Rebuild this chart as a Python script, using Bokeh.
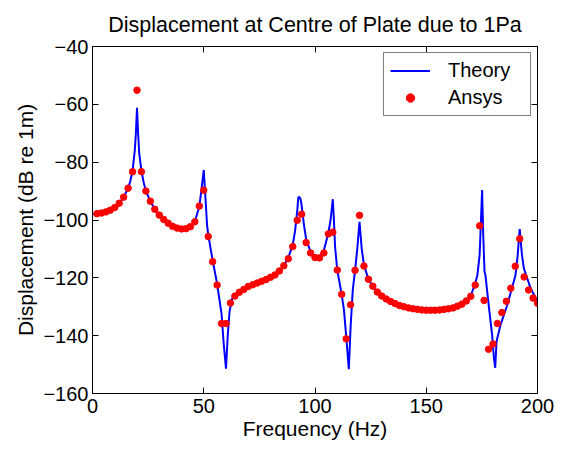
from bokeh.plotting import figure
from bokeh.models import LinearAxis, FixedTicker, Legend, LegendItem
from bokeh.embed import file_html
from bokeh.resources import INLINE

# Ansys results (2 Hz steps)
ansys_freq = list(range(2, 202, 2))
ansys_db = [
    -97.8, -97.6, -97.2, -96.6, -95.7, -94.2, -92.1, -89.0, -83.3, -55.1,
    -83.3, -90.0, -93.5, -96.3, -98.3, -99.8, -101.1, -102.2, -102.8, -103.1,
    -103.0, -102.3, -100.6, -95.2, -89.7, -105.7, -114.4, -122.5, -135.8, -135.8,
    -128.7, -126.3, -125.0, -124.0, -123.0, -122.4, -121.8, -121.2, -120.6, -119.8,
    -119.0, -117.6, -115.8, -113.4, -109.2, -100.1, -98.0, -107.8, -111.4, -113.0,
    -113.1, -111.4, -104.8, -104.2, -117.3, -125.7, -141.1, -129.3, -117.4, -98.4,
    -115.9, -120.5, -122.9, -124.9, -126.3, -127.3, -128.2, -128.9, -129.6, -130.0,
    -130.4, -130.7, -130.9, -131.1, -131.2, -131.2, -131.2, -131.1, -130.9, -130.7,
    -130.4, -129.8, -129.1, -128.0, -126.4, -122.5, -102.0, -127.8, -144.7, -142.9,
    -135.8, -132.0, -128.1, -123.6, -116.0, -106.5, -119.7, -124.2, -127.0, -128.8,
]

# Theory curve
theory_freq = [
    0, 2, 4, 6, 8, 10, 12, 14, 16, 17, 18, 19, 19.5, 20, 20.5, 21, 22, 23, 24, 26,
    28, 30, 32, 34, 36, 38, 40, 42, 44, 46, 48, 49, 50, 50.8, 51.5, 52, 54, 56, 58, 59,
    60, 60.8, 61.6, 62.8, 64, 66, 68, 70, 72, 74, 76, 78, 80, 82, 84, 86, 88, 90, 91, 92,
    92.5, 93, 93.5, 94, 95, 96, 98, 100, 102, 104, 106, 107, 108, 108.5, 109, 110, 112, 113, 114, 115.2,
    116, 117, 118, 119, 120, 121, 122, 124, 126, 128, 130, 132, 134, 136, 138, 140, 142, 144, 146, 148,
    150, 152, 154, 156, 158, 160, 162, 164, 166, 168, 170, 172, 173, 174, 174.6, 175.1, 175.6, 176.2, 176.6, 178,
    179.6, 180.4, 181.0, 181.6, 183.4, 186.4, 188, 190.1, 191, 192.0, 193.0, 193.9, 196.9, 200,
]
theory_db = [
    -98.0, -97.8, -97.6, -97.2, -96.6, -95.7, -94.2, -92.1, -89.0, -86.5, -83.0, -76.0, -70.0, -61.2, -70.0, -77.0, -83.0, -87.0, -90.0, -93.5,
    -96.3, -98.3, -99.8, -101.1, -102.2, -102.8, -103.1, -103.0, -102.3, -100.6, -95.3, -89.4, -82.7, -92.8, -101.9, -105.0, -114.0, -122.0, -132.5, -143.1,
    -151.4, -139.7, -131.6, -127.1, -125.8, -124.8, -123.8, -123.0, -122.4, -121.8, -121.2, -120.6, -119.8, -119.0, -117.6, -115.8, -113.0, -108.5, -104.0, -97.0,
    -92.2, -92.0, -92.8, -95.0, -101.5, -106.5, -111.0, -113.0, -112.8, -110.5, -104.5, -100.0, -92.8, -100.0, -109.0, -117.3, -125.8, -131.0, -140.0, -151.6,
    -137.0, -124.0, -117.5, -110.0, -100.6, -110.0, -115.5, -120.5, -123.0, -124.9, -126.3, -127.3, -128.2, -128.9, -129.6, -130.0, -130.4, -130.7, -130.9, -131.1,
    -131.2, -131.2, -131.2, -131.1, -130.9, -130.7, -130.4, -129.8, -129.1, -128.0, -126.2, -122.0, -119.0, -112.0, -100.0, -89.6, -105.0, -117.9, -119.1, -129.0,
    -139.7, -147.6, -151.1, -141.9, -136.2, -129.4, -125.0, -119.1, -113.0, -103.1, -112.0, -116.8, -123.6, -128.2,
]

x_ticks = [0, 50, 100, 150, 200]
y_ticks = [-160, -140, -120, -100, -80, -60, -40]

FONT = "Liberation Sans"

p = figure(width=557, height=442, x_range=(0, 200), y_range=(-160, -40),
           output_backend="svg", toolbar_location=None,
           min_border_left=92, min_border_right=20, min_border_top=46, min_border_bottom=46,
           x_axis_label="Frequency (Hz)", y_axis_label="Displacement (dB re 1m)")

p.title.text = "Displacement at Centre of Plate due to 1Pa"
p.title.align = "center"
p.title.text_font = FONT
p.title.text_font_style = "normal"
p.title.text_font_size = "21.5px"
p.title.text_color = "black"
p.title.standoff = 19

p.xgrid.visible = False
p.ygrid.visible = False
p.outline_line_color = "black"
p.outline_line_width = 1
p.background_fill_color = "white"
p.border_fill_color = "white"

p.xaxis.ticker = FixedTicker(ticks=x_ticks)
p.yaxis.ticker = FixedTicker(ticks=y_ticks)
for ax in (p.xaxis[0], p.yaxis[0]):
    ax.major_tick_in = 6
    ax.major_tick_out = 0
    ax.minor_tick_line_color = None
    ax.axis_line_color = "black"
    ax.major_tick_line_color = "black"
    ax.major_label_text_font = FONT
    ax.major_label_text_font_size = "20px"
    ax.major_label_text_color = "black"
    ax.axis_label_text_font = FONT
    ax.axis_label_text_font_style = "normal"
    ax.axis_label_text_font_size = "21px"
    ax.axis_label_text_color = "black"
p.xaxis.major_label_standoff = 5
p.xaxis.axis_label_standoff = 1
p.yaxis.major_label_standoff = 4
p.yaxis.axis_label_standoff = 3

# Box ticks on top and right (no labels), MATLAB style
top_ax = LinearAxis(ticker=FixedTicker(ticks=x_ticks), major_tick_in=6, major_tick_out=0,
                    minor_tick_line_color=None, major_label_text_color=None,
                    major_label_text_font_size="1px", major_label_standoff=0,
                    axis_line_color="black")
right_ax = LinearAxis(ticker=FixedTicker(ticks=y_ticks), major_tick_in=6, major_tick_out=0,
                      minor_tick_line_color=None, major_label_text_color=None,
                      major_label_text_font_size="1px", major_label_standoff=0,
                      axis_line_color="black")
p.add_layout(top_ax, "above")
p.add_layout(right_ax, "right")

r_line = p.line(theory_freq, theory_db, line_color="#0000FF", line_width=2)
r_pts = p.scatter(ansys_freq, ansys_db, size=6.5, fill_color="#FF0000", line_color="#FF0000")

legend = Legend(items=[LegendItem(label="Theory", renderers=[r_line]),
                       LegendItem(label="Ansys", renderers=[r_pts])],
                location="top_right")
legend.label_text_font = FONT
legend.label_text_font_size = "20px"
legend.label_text_color = "black"
legend.border_line_color = "black"
legend.border_line_width = 1
legend.background_fill_alpha = 1.0
legend.glyph_width = 40
legend.glyph_height = 21
legend.label_height = 21
legend.label_width = 76
legend.label_standoff = 18
legend.padding = 6
legend.spacing = 4
legend.margin = 6
p.add_layout(legend)

open("out.html", "w").write(file_html(p, INLINE))
